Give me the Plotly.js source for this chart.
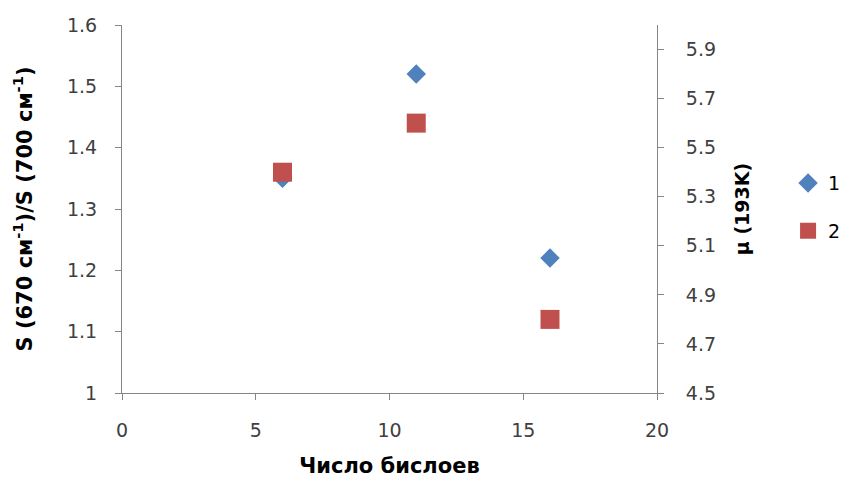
<!DOCTYPE html>
<html>
<head>
<meta charset="utf-8">
<script src="https://cdn.plot.ly/plotly-3.0.1.min.js"></script>
<style>html,body{margin:0;padding:0;background:#fff;}#chart{width:842px;height:479px;}</style>
</head>
<body>
<div id="chart"></div>
<script>
const xValues = [6, 11, 16];
const series1 = [1.35, 1.52, 1.22];
const series2 = [5.4, 5.6, 4.8];
const seriesNames = ["1", "2"];
const xTitle = "Число бислоев";
const yTitle = "S (670 см<sup>-1</sup>)/S (700 см<sup>-1</sup>)";
const y2Title = "μ (193K)";

const FONT = "DejaVu Sans, sans-serif";
const traces = [
  {x: xValues, y: series1, name: seriesNames[0], type: "scatter", mode: "markers", legendgroup: "g1",
   marker: {symbol: "diamond", size: 15, color: "#4F81BD"}, yaxis: "y"},
  {x: xValues, y: series2, name: seriesNames[1], type: "scatter", mode: "markers", legendgroup: "g2",
   marker: {symbol: "square", size: 19, color: "#C0504D"}, yaxis: "y2"}
];
const axisCommon = {showgrid: false, zeroline: false, showline: true, linecolor: "#868686", linewidth: 1,
  automargin: false,
  ticks: "outside", ticklen: 6, tickcolor: "#868686", tickfont: {family: FONT, size: 19, color: "#404040"}};
const titleFont = {family: FONT, size: 21, weight: "bold", color: "#000"};
const layout = {
  width: 842, height: 479,
  margin: {l: 122, r: 185, t: 25, b: 86, autoexpand: false},
  paper_bgcolor: "#fff", plot_bgcolor: "#fff",
  font: {family: FONT, color: "#000"},
  xaxis: Object.assign({}, axisCommon, {range: [0, 20], dtick: 5, tick0: 0, ticklabelstandoff: 14,
    title: {text: xTitle, font: titleFont, standoff: 18}}),
  yaxis: Object.assign({}, axisCommon, {range: [1, 1.6], dtick: 0.1, tick0: 1, ticklabelstandoff: 14,
    title: {text: yTitle, font: titleFont, standoff: 28}}),
  yaxis2: Object.assign({}, axisCommon, {overlaying: "y", side: "right", range: [4.5, 6.0], dtick: 0.2, tick0: 4.5,
    ticklabelstandoff: 18,
    title: {text: y2Title, font: Object.assign({}, titleFont, {size: 19}), standoff: 20}}),
  showlegend: true,
  legend: {x: 1.245, xanchor: "left", y: 0.505, yanchor: "middle", font: {family: FONT, size: 19, color: "#000"},
    traceorder: "grouped", itemwidth: 30, tracegroupgap: 20, bgcolor: "rgba(0,0,0,0)"}
};
Plotly.newPlot("chart", traces, layout, {displayModeBar: false, staticPlot: true});
</script>
</body>
</html>
